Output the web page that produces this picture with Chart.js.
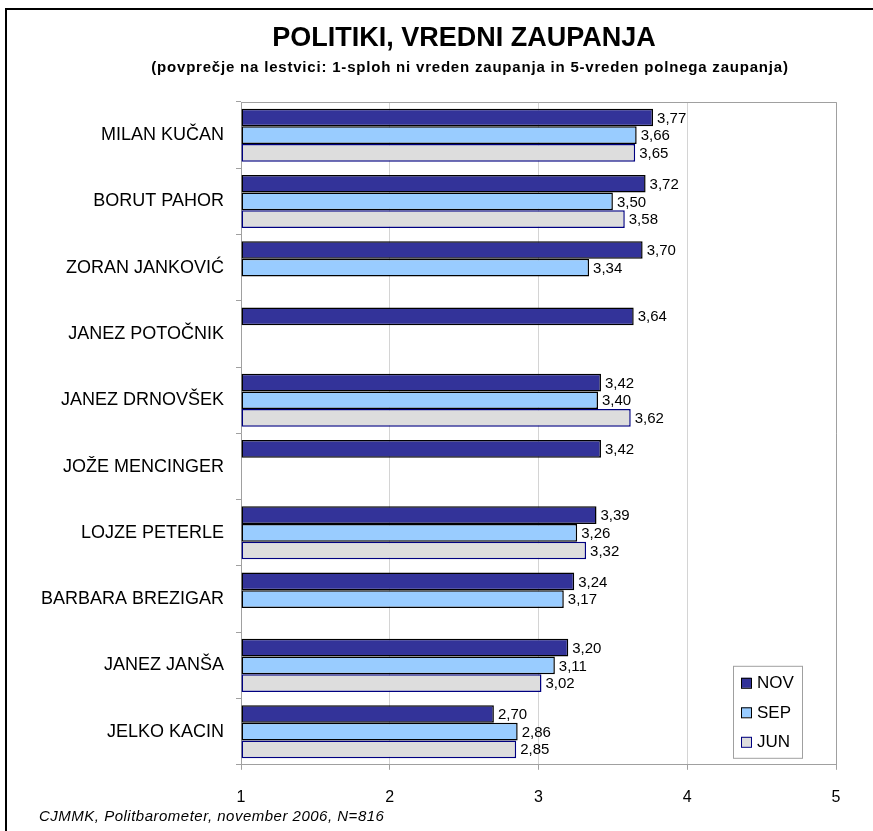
<!DOCTYPE html>
<html>
<head>
<meta charset="utf-8">
<script src="https://cdn.jsdelivr.net/npm/chart.js@4/dist/chart.umd.min.js"></script>
<style>
  html, body { margin: 0; padding: 0; overflow: hidden; background: #fff; }
  #wrap { position: relative; width: 873px; height: 831px; overflow: hidden; }
  #frame { position: absolute; left: 5px; top: 8px; width: 1000px; height: 900px;
           border-top: 2px solid #000; border-left: 2px solid #000; pointer-events: none; }
  canvas { position: absolute; left: 0; top: 0; }
</style>
</head>
<body>
<div id="wrap">
  <canvas id="c" width="873" height="831"></canvas>
  <div id="frame"></div>
</div>
<script>
const categories = ['MILAN KUČAN', 'BORUT PAHOR', 'ZORAN JANKOVIĆ', 'JANEZ POTOČNIK', 'JANEZ DRNOVŠEK',
                    'JOŽE MENCINGER', 'LOJZE PETERLE', 'BARBARA BREZIGAR', 'JANEZ JANŠA', 'JELKO KACIN'];
const novValues = [3.77, 3.72, 3.70, 3.64, 3.42, 3.42, 3.39, 3.24, 3.20, 2.70];
const sepValues = [3.66, 3.50, 3.34, null, 3.40, null, 3.26, 3.17, 3.11, 2.86];
const junValues = [3.65, 3.58, null, null, 3.62, null, 3.32, null, 3.02, 2.85];
const seriesLabels = ['NOV', 'SEP', 'JUN'];
const xTicks = [1, 2, 3, 4, 5];
const titleText = 'POLITIKI, VREDNI ZAUPANJA';
const subtitleText = '(povprečje na lestvici: 1-sploh ni vreden zaupanja in 5-vreden polnega zaupanja)';
const footerText = 'CJMMK, Politbarometer, november 2006, N=816';

const FONT = '"Liberation Sans", Arial, sans-serif';

function spacedText(ctx, text, x, y, spacing) {
  if ('letterSpacing' in ctx) {
    ctx.letterSpacing = spacing + 'px';
    ctx.fillText(text, x, y);
    ctx.letterSpacing = '0px';
  } else {
    ctx.fillText(text, x, y);
  }
}

const headings = {
  id: 'headings',
  afterDraw(chart) {
    const ctx = chart.ctx;
    ctx.save();
    ctx.fillStyle = '#000';
    ctx.textAlign = 'center';
    ctx.textBaseline = 'middle';
    ctx.font = 'bold 27px ' + FONT;
    ctx.fillText(titleText, 464, 39);
    ctx.font = 'bold 15px ' + FONT;
    spacedText(ctx, subtitleText, 470, 68, 0.8);
    ctx.textAlign = 'left';
    ctx.font = 'italic 15px ' + FONT;
    spacedText(ctx, footerText, 39, 817, 0.5);
    ctx.restore();
  }
};

const plotFrame = {
  id: 'plotFrame',
  beforeDatasetsDraw(chart) {
    const a = chart.chartArea, ctx = chart.ctx;
    ctx.save();
    ctx.strokeStyle = '#a0a0a0';
    ctx.lineWidth = 1;
    ctx.beginPath();
    ctx.moveTo(a.left, a.top + 0.5);
    ctx.lineTo(a.right + 0.5, a.top + 0.5);
    ctx.lineTo(a.right + 0.5, a.bottom);
    ctx.stroke();
    ctx.restore();
  }
};

const valueLabels = {
  id: 'valueLabels',
  afterDatasetsDraw(chart) {
    const ctx = chart.ctx;
    ctx.save();
    ctx.font = '15px ' + FONT;
    ctx.fillStyle = '#000';
    ctx.textAlign = 'left';
    ctx.textBaseline = 'middle';
    chart.data.datasets.forEach((ds, i) => {
      const meta = chart.getDatasetMeta(i);
      meta.data.forEach((el, j) => {
        const v = ds.data[j];
        if (v === null || v === undefined) return;
        ctx.fillText(v.toFixed(2).replace('.', ','), el.x + 4, el.y + 1);
      });
    });
    ctx.restore();
  }
};

const boxLegend = {
  id: 'boxLegend',
  afterDraw(chart) {
    const a = chart.chartArea, ctx = chart.ctx;
    const w = 69, h = 92;
    const x0 = a.right - 34 - w, y0 = a.bottom - 7 - h;
    ctx.save();
    ctx.fillStyle = '#fff';
    ctx.fillRect(x0, y0, w, h);
    ctx.strokeStyle = '#a0a0a0';
    ctx.lineWidth = 1;
    ctx.strokeRect(x0 + 0.5, y0 + 0.5, w, h);
    ctx.font = '17px ' + FONT;
    ctx.textBaseline = 'middle';
    ctx.textAlign = 'left';
    chart.data.datasets.forEach((ds, i) => {
      const cy = y0 + 17 + i * 29.5;
      ctx.fillStyle = ds.backgroundColor;
      ctx.fillRect(x0 + 8, cy - 5, 10, 10);
      ctx.strokeStyle = ds.borderColor;
      ctx.lineWidth = 1;
      ctx.strokeRect(x0 + 8.5, cy - 4.5, 10, 10);
      ctx.fillStyle = '#000';
      ctx.fillText(ds.label, x0 + 24, cy + 1);
    });
    ctx.restore();
  }
};

new Chart(document.getElementById('c'), {
  type: 'bar',
  data: {
    labels: categories,
    datasets: [
      { label: seriesLabels[0], data: novValues, backgroundColor: '#333399', borderColor: '#000000', borderWidth: 1.5 },
      { label: seriesLabels[1], data: sepValues, backgroundColor: '#99CCFF', borderColor: '#000000', borderWidth: 1.5 },
      { label: seriesLabels[2], data: junValues, backgroundColor: '#DDDDDD', borderColor: '#000080', borderWidth: 1.5 }
    ]
  },
  options: {
    indexAxis: 'y',
    responsive: false,
    animation: false,
    layout: { padding: { left: 0, right: 37, top: 102, bottom: 6 } },
    datasets: { bar: { base: 1, categoryPercentage: 0.8, barPercentage: 1.0, borderSkipped: false } },
    scales: {
      x: {
        type: 'linear', min: 1, max: 5,
        afterBuildTicks(scale) { scale.ticks = xTicks.map(v => ({ value: v })); },
        grid: { color: '#d4d4d4', tickLength: 5, tickColor: '#a0a0a0', drawOnChartArea: true },
        border: { color: '#a0a0a0' },
        ticks: { font: { family: FONT, size: 16 }, color: '#000', padding: 18 }
      },
      y: {
        type: 'category',
        offset: true,
        afterFit(scale) { scale.width = 241; },
        grid: { offset: true, drawOnChartArea: false, tickLength: 5, color: '#a0a0a0' },
        border: { color: '#a0a0a0' },
        ticks: { font: { family: FONT, size: 18 }, color: '#000', padding: 12 }
      }
    },
    plugins: {
      legend: { display: false },
      tooltip: { enabled: false },
      title: { display: false },
      subtitle: { display: false }
    }
  },
  plugins: [plotFrame, valueLabels, boxLegend, headings]
});
</script>
</body>
</html>
